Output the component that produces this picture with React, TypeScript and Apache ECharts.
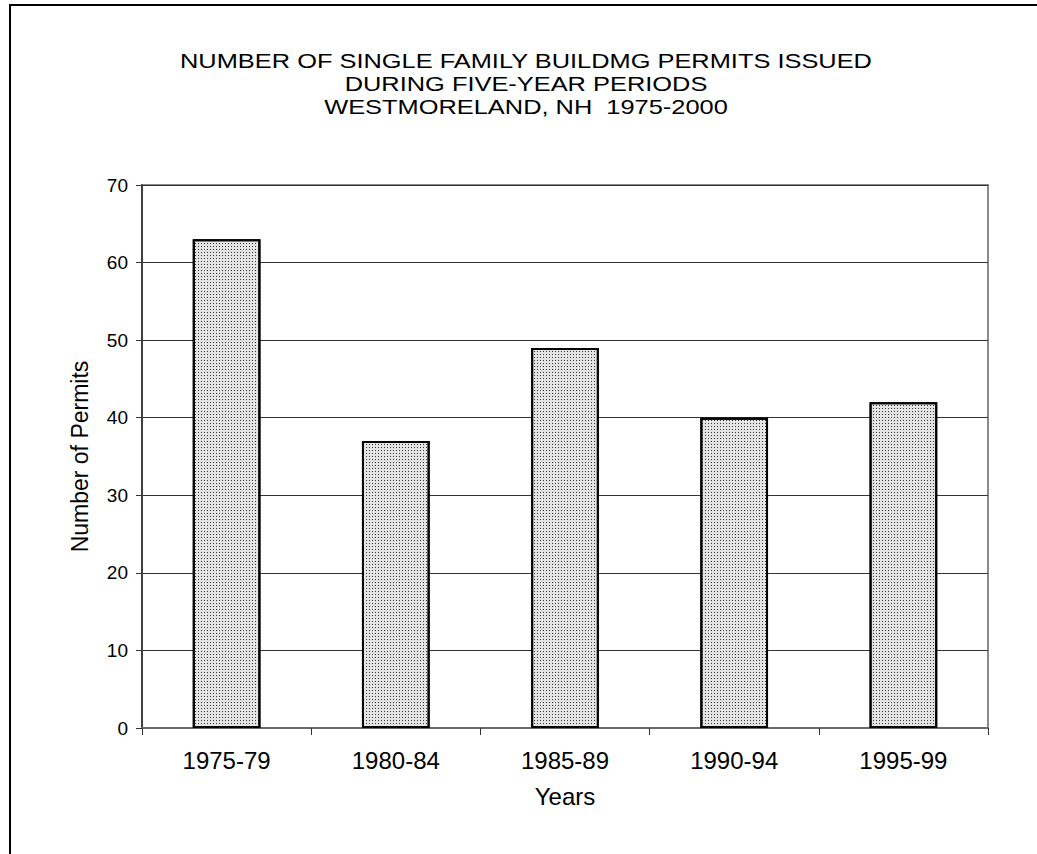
import React, { useEffect, useRef } from "react";
import * as echarts from "echarts";

const categories = ["1975-79", "1980-84", "1985-89", "1990-94", "1995-99"];
const permits = [63, 37, 49, 40, 42];
const titleLines = [
  "NUMBER OF SINGLE FAMILY BUILDMG PERMITS ISSUED",
  "DURING FIVE-YEAR PERIODS",
  "WESTMORELAND, NH  1975-2000",
];
const yAxisName = "Number of Permits";
const xAxisName = "Years";

const FONT = "'Liberation Sans', Arial, Helvetica, sans-serif";

export default function App() {
  const ref = useRef<HTMLDivElement>(null);
  useEffect(() => {
    if (!ref.current) return;
    const chart = echarts.init(ref.current, null, { renderer: "svg" });
    chart.setOption({
      animation: false,
      backgroundColor: "#ffffff",
      grid: {
        left: 142,
        right: 49,
        top: 185,
        bottom: 126,
        show: true,
        borderColor: "#8a8a8a",
        borderWidth: 2,
        backgroundColor: "transparent",
      },
      graphic: [
        {
          type: "polyline",
          shape: { points: [[10, 854], [10, 5], [1037, 5]] },
          style: { stroke: "#000", lineWidth: 2, fill: "none" },
          silent: true,
        },
        {
          type: "text",
          x: 526,
          y: 84,
          scaleX: 1.21,
          style: {
            text: titleLines.join("\n"),
            x: 0,
            y: 0,
            textAlign: "center",
            textVerticalAlign: "middle",
            fontFamily: FONT,
            fontSize: 21,
            lineHeight: 23,
            fill: "#000",
          },
          silent: true,
        },
      ],
      xAxis: {
        type: "category",
        data: categories,
        boundaryGap: true,
        name: xAxisName,
        nameLocation: "middle",
        nameGap: 56,
        nameTextStyle: { fontFamily: FONT, fontSize: 24, color: "#000" },
        axisLine: { show: true, lineStyle: { color: "#6a6a6a", width: 2 } },
        axisTick: { show: true, alignWithLabel: false, length: 7, lineStyle: { color: "#333", width: 1 } },
        axisLabel: { fontFamily: FONT, fontSize: 24, color: "#000", margin: 20 },
        splitLine: { show: false },
      },
      yAxis: {
        type: "value",
        min: 0,
        max: 70,
        interval: 10,
        name: yAxisName,
        nameLocation: "middle",
        nameGap: 51,
        nameRotate: 90,
        nameTextStyle: { fontFamily: FONT, fontSize: 23, color: "#000" },
        axisLine: { show: true, lineStyle: { color: "#404040", width: 2 } },
        axisTick: { show: true, length: 6, lineStyle: { color: "#333", width: 1 } },
        axisLabel: { fontFamily: FONT, fontSize: 19, color: "#000", margin: 14 },
        splitLine: { show: true, lineStyle: { color: "#333", width: 1 } },
      },
      series: [
        {
          type: "bar",
          data: permits,
          barWidth: "40%",
          itemStyle: {
            color: "#e4e4e4",
            borderColor: "#000",
            borderWidth: 2,
            decal: {
              symbol: "rect",
              symbolSize: 1,
              dashArrayX: [1, 2],
              dashArrayY: [1, 2],
              color: "rgba(0,0,0,0.75)",
            },
          },
        },
      ],
    });
    return () => chart.dispose();
  }, []);
  return (
    <div
      ref={ref}
      style={{ position: "absolute", left: 0, top: 0, width: 1037, height: 854, background: "#fff" }}
    />
  );
}
